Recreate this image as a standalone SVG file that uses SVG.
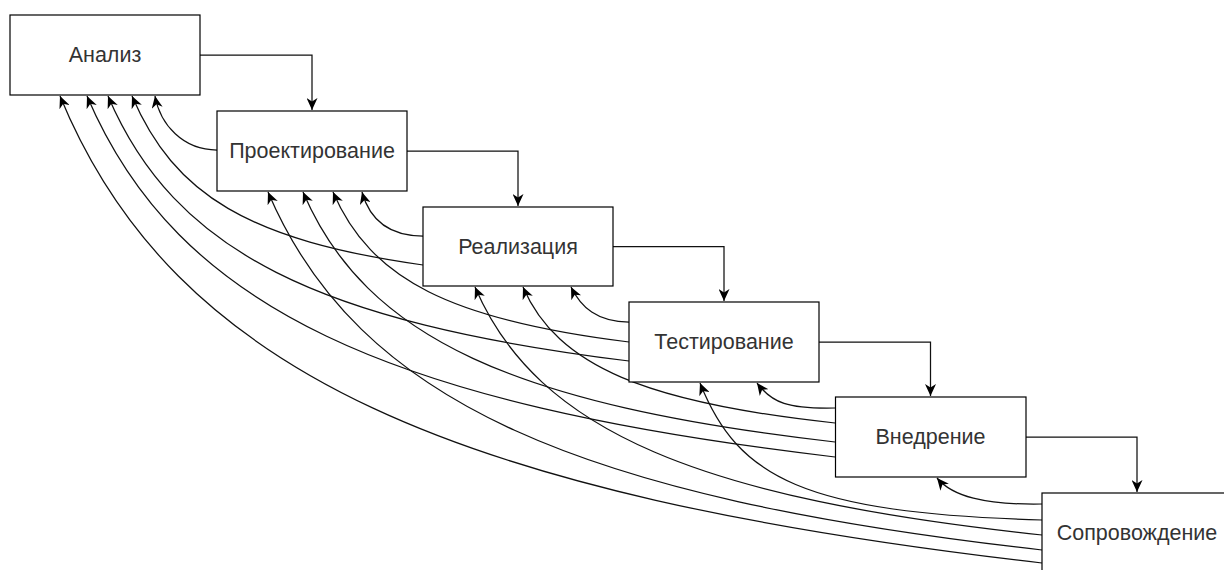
<svg xmlns="http://www.w3.org/2000/svg" width="1224" height="570" viewBox="0 0 1224 570">
<defs>
<style>
.box{fill:#fff;stroke:#000;stroke-width:1.2}
.lbl{font-family:"Liberation Sans",Arial,Helvetica,sans-serif;font-size:21.5px;fill:#333;text-anchor:middle;dominant-baseline:central}
.edge{fill:none;stroke:#111;stroke-width:1.25}
</style>
<marker id="arr" viewBox="0 0 12 11" markerUnits="userSpaceOnUse" markerWidth="12" markerHeight="11" refX="12" refY="5.5" orient="auto">
<path d="M0,0 L12,5.5 L0,11 L3.5,5.5 Z" fill="#000" stroke="none"/>
</marker>
</defs>
<rect width="1224" height="570" fill="#fff"/>
<g id="connectors" marker-end="url(#arr)">
<path class="edge" marker-end="url(#arr)" d="M200,55 H312 V110"/>
<path class="edge" marker-end="url(#arr)" d="M407,151 H518 V206"/>
<path class="edge" marker-end="url(#arr)" d="M613,246.5 H724 V301"/>
<path class="edge" marker-end="url(#arr)" d="M819,342 H930.5 V396"/>
<path class="edge" marker-end="url(#arr)" d="M1026,437 H1137 V492"/>
<path class="edge" marker-end="url(#arr)" d="M217,150 C183,150 160.3,124.8 155,96"/>
<path class="edge" marker-end="url(#arr)" d="M423,236 C386.4,236 369,217.1 362,192"/>
<path class="edge" marker-end="url(#arr)" d="M629,322 C597,322 580.9,307.2 571,287"/>
<path class="edge" marker-end="url(#arr)" d="M835,408 C788,409 772,403 757,383"/>
<path class="edge" marker-end="url(#arr)" d="M1042,504 C984,505 952,496.1 937,478"/>
<path class="edge" marker-end="url(#arr)" d="M423,265 C248.4,240.2 174.5,195.1 132,96"/>
<path class="edge" marker-end="url(#arr)" d="M629,342 C451.4,320 370.8,279.9 333,192"/>
<path class="edge" marker-end="url(#arr)" d="M835,423 C647.8,403 557.3,366.7 523,287"/>
<path class="edge" marker-end="url(#arr)" d="M1042,520 C803,513 738,478 700,383"/>
<path class="edge" marker-end="url(#arr)" d="M629,361 C316.4,322.2 174.5,251.7 108,96"/>
<path class="edge" marker-end="url(#arr)" d="M835,442 C515.8,405.4 365.8,338.8 303,192"/>
<path class="edge" marker-end="url(#arr)" d="M1042,535 C701.8,498.6 537.3,432.7 475,287"/>
<path class="edge" marker-end="url(#arr)" d="M835,457 C386.2,404.1 177.5,308.2 87,96"/>
<path class="edge" marker-end="url(#arr)" d="M1042,550 C577.6,497.6 357.8,402.5 268,192"/>
<path class="edge" marker-end="url(#arr)" d="M1042,563 C452,495 174,373 60,96"/>
</g>
<g id="analiz"><rect class="box" x="10" y="15" width="190" height="80"/><text class="lbl" x="105" y="55">Анализ</text></g>
<g id="proektirovanie"><rect class="box" x="217" y="111" width="190" height="80"/><text class="lbl" x="312" y="151">Проектирование</text></g>
<g id="realizaciya"><rect class="box" x="423" y="207" width="190" height="79"/><text class="lbl" x="518" y="246.5">Реализация</text></g>
<g id="testirovanie"><rect class="box" x="629" y="302" width="190" height="80"/><text class="lbl" x="724" y="342">Тестирование</text></g>
<g id="vnedrenie"><rect class="box" x="835.5" y="397" width="190.5" height="80"/><text class="lbl" x="930.5" y="437">Внедрение</text></g>
<g id="soprovozhdenie"><rect class="box" x="1042" y="493" width="190" height="80"/><text class="lbl" x="1137" y="533">Сопровождение</text></g>
</svg>
